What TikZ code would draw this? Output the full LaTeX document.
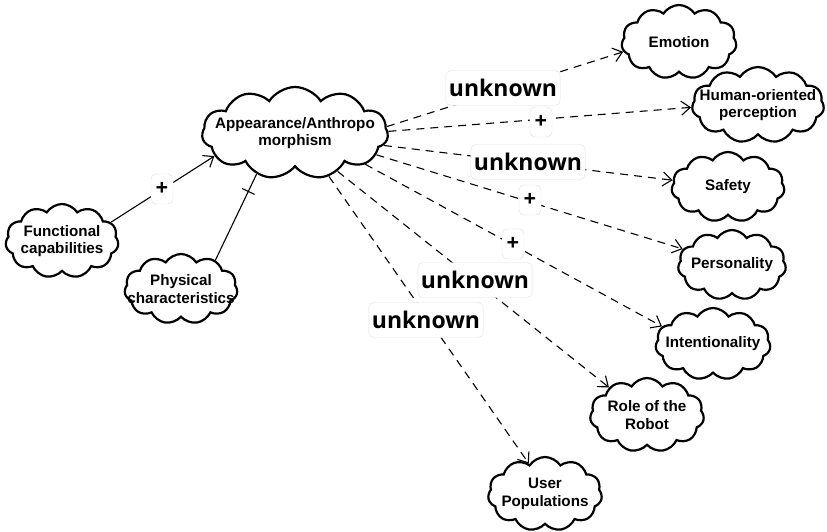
\documentclass[tikz,border=0pt]{standalone}
\usepackage{fontspec}
\setmainfont{Liberation Sans}
\newfontfamily\lblfont{Open Sans}
\usetikzlibrary{shapes.symbols,arrows.meta}
\begin{document}
\begin{tikzpicture}[x=1pt,y=-1pt,
  concept/.style={cloud, cloud puffs=11, cloud puff arc=115, cloud ignores aspect, draw, line width=2.2pt, fill=white, inner sep=0pt},
  txt/.style={align=center, font=\fontsize{15.2}{17.5}\selectfont\bfseries, inner sep=0pt},
  rel/.style={line width=1.1pt, dash pattern=on 8pt off 6pt, -{Straight Barb[length=9pt,width=14pt]}},
  solidrel/.style={line width=1.1pt},
  lbl/.style={fill=white, draw=black!12, rounded corners=5pt, font=\lblfont\bfseries\fontsize{23}{26}\selectfont, inner xsep=3pt, minimum height=35pt},
  pluslbl/.style={fill=white, draw=black!12, rounded corners=5pt, font=\lblfont\bfseries\fontsize{22}{24}\selectfont, inner sep=0pt, minimum width=22pt, minimum height=30pt}
]
\useasboundingbox (0,0) rectangle (827,531);
\fill[white] (0,0) rectangle (827,531);

\node[concept, minimum width=186pt, minimum height=92pt, label={[txt]center:Appearance/Anthropo\\morphism}] (app) at (295,133) {};
\node[concept, minimum width=113pt, minimum height=74pt, label={[txt]center:Functional\\capabilities}] (func) at (62,241) {};
\node[concept, minimum width=113pt, minimum height=70pt, label={[txt]center:Physical\\characteristics}] (phys) at (181,289) {};
\node[concept, minimum width=115pt, minimum height=74pt, label={[txt]center:Emotion}] (emo) at (679,42) {};
\node[concept, minimum width=132pt, minimum height=76pt, label={[txt]center:Human-oriented\\perception}] (hum) at (758,105) {};
\node[concept, minimum width=113pt, minimum height=70pt, label={[txt]center:Safety}] (saf) at (728,187) {};
\node[concept, minimum width=108pt, minimum height=70pt, label={[txt]center:Personality}] (per) at (732,265) {};
\node[concept, minimum width=115pt, minimum height=72pt, label={[txt]center:Intentionality}] (int) at (713,344) {};
\node[concept, minimum width=114pt, minimum height=74pt, label={[txt]center:Role of the\\Robot}] (rob) at (647,415) {};
\node[concept, minimum width=114pt, minimum height=74pt, label={[txt]center:User\\Populations}] (usr) at (545,494) {};

\draw[rel] (app.4) -- (emo.190);
\draw[rel] (app.1) -- (hum.182);
\draw[rel] (app.-8) -- (saf.173);
\draw[rel] (app.-15) -- (per.162);
\draw[rel] (app.-24) -- (int.161);
\draw[rel] (app.-42) -- (rob.144);
\draw[rel] (app.-52) -- (usr.118);
\draw[solidrel, -{Straight Barb[length=9pt,width=14pt]}] (func.21) -- (app.196);
\draw[solidrel] (phys.40) -- (app.227) node[pos=0.8, sloped, draw, line width=1.1pt, inner sep=0pt, minimum width=0pt, minimum height=14pt] (bar) {};

\node[lbl] (u1) at (503,88) {unknown};
\node[pluslbl] (p1) at (541,122) {+};
\node[lbl] (u2) at (528,162) {unknown};
\node[pluslbl] (p2) at (530,200) {+};
\node[pluslbl] (p3) at (513,244) {+};
\node[lbl] (u3) at (475,280) {unknown};
\node[lbl] (u4) at (426,320) {unknown};
\node[pluslbl] (p4) at (162,189) {+};
\end{tikzpicture}
\end{document}
